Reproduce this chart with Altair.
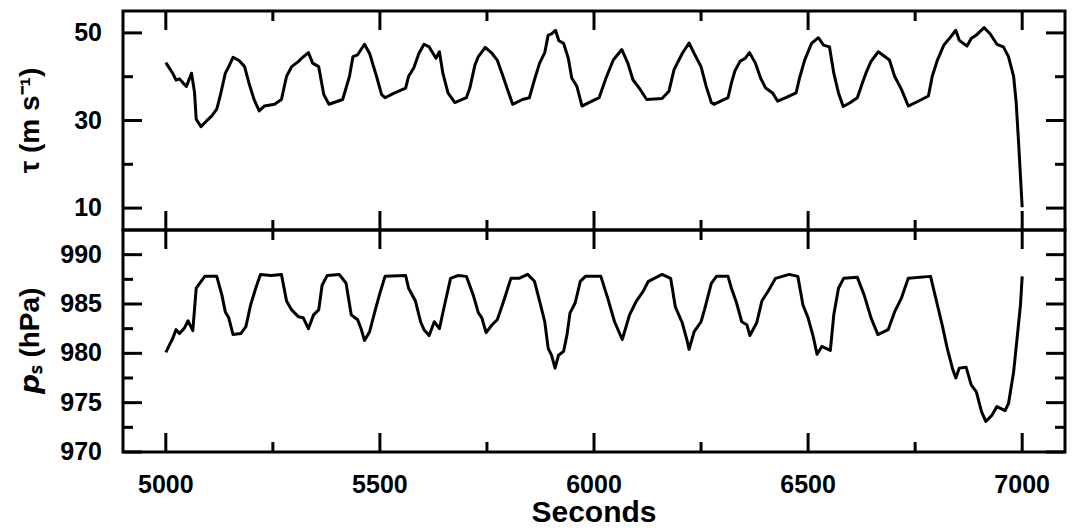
import altair as alt
import pandas as pd

# ---------------- data ----------------
tau_sec = [5000, 5008, 5016, 5024, 5032, 5040, 5048, 5060, 5067, 5071, 5082, 5095, 5107, 5119, 5127,
           5139, 5147, 5157, 5171, 5184, 5194, 5206, 5218, 5230, 5254, 5270, 5282, 5294, 5310, 5317,
           5333, 5343, 5357, 5369, 5381, 5393, 5413, 5429, 5437, 5448, 5464, 5476, 5492, 5504, 5512,
           5532, 5560, 5567, 5579, 5591, 5603, 5615, 5631, 5639, 5647, 5659, 5675, 5702, 5710, 5722,
           5730, 5746, 5762, 5774, 5786, 5798, 5810, 5833, 5849, 5861, 5873, 5885, 5893, 5901, 5910,
           5918, 5929, 5940, 5948, 5960, 5972, 5988, 6012, 6028, 6045, 6065, 6079, 6091, 6107, 6123,
           6159, 6175, 6187, 6206, 6222, 6234, 6250, 6262, 6274, 6280, 6313, 6321, 6329, 6341, 6353,
           6363, 6377, 6389, 6401, 6417, 6429, 6448, 6472, 6480, 6492, 6508, 6524, 6536, 6550, 6560,
           6571, 6582, 6599, 6615, 6627, 6635, 6647, 6664, 6679, 6690, 6702, 6718, 6734, 6757, 6781,
           6790, 6802, 6817, 6833, 6845, 6853, 6871, 6881, 6893, 6911, 6925, 6941, 6956, 6968, 6980,
           6986, 6992, 7000]
tau_val = [43.2, 42.0, 40.8, 39.2, 39.5, 38.6, 37.8, 40.8, 36.5, 30.3, 28.6, 29.9, 31.0, 32.6, 35.6,
           40.8, 42.3, 44.4, 43.7, 42.3, 38.6, 34.8, 32.2, 33.3, 33.7, 34.8, 40.1, 42.3, 43.5, 44.2,
           45.5, 43.1, 42.3, 35.9, 33.7, 34.1, 34.8, 40.1, 44.6, 45.0, 47.4, 45.3, 40.1, 35.9, 35.2,
           36.2, 37.4, 40.1, 42.0, 45.3, 47.4, 46.8, 44.2, 45.7, 40.8, 36.3, 34.1, 35.2, 37.4, 42.7,
           44.6, 46.7, 45.3, 43.8, 40.5, 37.1, 33.7, 34.8, 35.2, 39.3, 43.1, 45.5, 49.5, 49.8, 50.6,
           48.2, 47.6, 44.2, 39.7, 37.8, 33.3, 34.1, 35.2, 39.7, 43.8, 46.2, 43.1, 39.3, 37.2, 34.8,
           35.0, 36.7, 41.6, 45.3, 47.7, 45.3, 42.3, 37.8, 34.1, 33.7, 35.2, 38.6, 41.3, 43.5, 44.2,
           45.5, 43.1, 39.7, 37.4, 36.3, 34.4, 35.2, 36.3, 39.7, 43.8, 47.6, 48.9, 47.2, 46.8, 40.8,
           36.3, 33.2, 34.1, 35.2, 38.6, 40.8, 43.5, 45.7, 44.6, 43.8, 40.1, 37.1, 33.3, 34.4, 35.6,
           40.1, 43.8, 47.2, 49.1, 50.6, 48.3, 47.0, 48.7, 49.5, 51.2, 49.8, 47.4, 46.8, 44.6, 40.1,
           34.1, 24.3, 10.2]

ps_sec = [5000, 5008, 5016, 5024, 5032, 5044, 5052, 5063, 5071, 5079, 5091, 5119, 5131, 5139, 5147,
          5157, 5175, 5187, 5198, 5210, 5221, 5246, 5270, 5282, 5294, 5310, 5321, 5333, 5345, 5357,
          5365, 5377, 5405, 5421, 5433, 5448, 5456, 5464, 5476, 5488, 5500, 5512, 5560, 5567, 5583,
          5595, 5603, 5615, 5627, 5639, 5651, 5665, 5683, 5702, 5718, 5730, 5738, 5748, 5762, 5774,
          5786, 5806, 5825, 5845, 5861, 5873, 5885, 5893, 5901, 5909, 5917, 5929, 5937, 5944, 5956,
          5968, 5980, 6016, 6032, 6048, 6066, 6083, 6099, 6115, 6127, 6159, 6179, 6190, 6206, 6218,
          6222, 6234, 6250, 6258, 6274, 6286, 6313, 6321, 6333, 6345, 6357, 6364, 6380, 6392, 6408,
          6424, 6456, 6476, 6488, 6500, 6512, 6521, 6532, 6552, 6560, 6571, 6583, 6615, 6631, 6647,
          6663, 6687, 6702, 6718, 6734, 6786, 6802, 6813, 6825, 6837, 6845, 6853, 6869, 6881, 6893,
          6905, 6915, 6929, 6941, 6960, 6968, 6980, 6988, 6996, 7000]
ps_val = [980.1, 980.8, 981.5, 982.4, 982.0, 982.6, 983.3, 982.3, 986.6, 987.1, 987.8, 987.8, 985.9, 984.2, 983.6,
          981.9, 982.0, 982.7, 984.9, 986.6, 988.0, 987.9, 988.0, 985.3, 984.4, 983.7, 983.6, 982.5, 983.9, 984.4,
          986.9, 987.9, 988.0, 987.1, 983.9, 983.4, 982.5, 981.3, 982.2, 984.2, 986.1, 987.8, 987.9, 986.6, 985.3,
          983.2, 982.4, 981.8, 983.2, 982.5, 984.9, 987.6, 987.9, 987.8, 985.9, 984.1, 983.6, 982.1, 982.9, 983.4,
          984.9, 987.6, 987.6, 988.0, 987.3, 985.3, 983.2, 980.5, 979.8, 978.5, 979.8, 980.2, 981.9, 984.1, 985.1,
          987.3, 987.8, 987.8, 985.6, 983.2, 981.4, 983.9, 985.3, 986.3, 987.3, 988.0, 987.6, 984.7, 983.1, 981.2,
          980.4, 982.2, 983.2, 984.4, 987.1, 987.8, 987.8, 986.6, 985.1, 983.2, 982.9, 981.8, 983.1, 985.3, 986.4,
          987.6, 988.0, 987.8, 984.9, 983.6, 981.7, 979.9, 980.7, 980.3, 983.9, 986.6, 987.6, 987.7, 985.9, 983.6,
          981.9, 982.4, 984.2, 985.6, 987.6, 987.8, 984.9, 982.9, 980.5, 978.5, 977.5, 978.5, 978.6, 976.8, 976.1,
          974.1, 973.1, 973.7, 974.6, 974.2, 974.9, 978.1, 981.5, 984.9, 987.8]

x_major = [5000, 5500, 6000, 6500, 7000]
x_minor = [5250, 5750, 6250, 6750]
tau_major = [10, 30, 50]
tau_minor = [20, 40]
ps_major = [970, 975, 980, 985, 990]
ps_minor = [972.5, 977.5, 982.5, 987.5]

tau_title = ["τ (m s⁻¹)"]
ps_title = ["𝙥ₛ (hPa)"]
x_title = ["Seconds"]

X_DOMAIN = [4900, 7100]
TAU_DOMAIN = [5, 55]
PS_DOMAIN = [970, 992.5]

# ---------------- layout / style ----------------
# total drawing kept narrower than the page body so the browser does not shrink it
W = 942
H_TOP = 219
H_BOT = 222
MAJ = 19
MINL = 10
FONT = "Liberation Sans"
TXT = dict(font=FONT, fontWeight="bold", color="black")


def ticks_layers(xs, ys, ymajor, yminor, height):
    layers = []
    for vals, ln in ((ymajor, MAJ), (yminor, MINL)):
        d = pd.DataFrame({"v": vals})
        for x0, x1 in ((0, ln), (W - ln, W)):
            layers.append(alt.Chart(d).mark_rule(color="black", strokeWidth=3).encode(
                y=alt.Y("v:Q", scale=ys, axis=None),
                x=alt.value(x0), x2=alt.value(x1)))
    for vals, ln in ((x_major, MAJ), (x_minor, MINL)):
        d = pd.DataFrame({"v": vals})
        for y0, y1 in ((0, ln), (height - ln, height)):
            layers.append(alt.Chart(d).mark_rule(color="black", strokeWidth=3).encode(
                x=alt.X("v:Q", scale=xs, axis=None),
                y=alt.value(y0), y2=alt.value(y1)))
    return layers


def panel(df, yfield, ydomain, ymajor, yminor, ytitle, height, show_x_labels):
    xs = alt.Scale(domain=X_DOMAIN, nice=False, zero=False)
    ys = alt.Scale(domain=ydomain, nice=False, zero=False)

    line = alt.Chart(df).mark_line(color="black", strokeWidth=3, strokeJoin="round").encode(
        x=alt.X("sec:Q", scale=xs, axis=None),
        y=alt.Y(f"{yfield}:Q", scale=ys, axis=None),
    )
    layers = [line] + ticks_layers(xs, ys, ymajor, yminor, height)

    # y tick labels
    ylab = pd.DataFrame({"v": ymajor, "lab": [str(v) for v in ymajor]})
    layers.append(alt.Chart(ylab).mark_text(align="right", baseline="middle", fontSize=25, **TXT).encode(
        y=alt.Y("v:Q", scale=ys, axis=None), x=alt.value(-21), text="lab:N"))
    # y title
    layers.append(alt.Chart(pd.DataFrame({"t": ytitle})).mark_text(
        align="center", baseline="bottom", angle=270, fontSize=28, **TXT).encode(
        x=alt.value(-78), y=alt.value(height / 2), text="t:N"))

    if show_x_labels:
        xlab = pd.DataFrame({"v": x_major, "lab": [str(v) for v in x_major]})
        layers.append(alt.Chart(xlab).mark_text(align="center", baseline="top", fontSize=25, **TXT).encode(
            x=alt.X("v:Q", scale=xs, axis=None), y=alt.value(height + 21), text="lab:N"))
        layers.append(alt.Chart(pd.DataFrame({"t": x_title})).mark_text(
            align="center", baseline="top", fontSize=30, **TXT).encode(
            x=alt.value(W / 2), y=alt.value(height + 46), text="t:N"))

    return alt.layer(*layers).properties(width=W, height=height)


tau_df = pd.DataFrame({"sec": tau_sec, "tau": tau_val})
ps_df = pd.DataFrame({"sec": ps_sec, "ps": ps_val})

top = panel(tau_df, "tau", TAU_DOMAIN, tau_major, tau_minor, tau_title, H_TOP, False)
bottom = panel(ps_df, "ps", PS_DOMAIN, ps_major, ps_minor, ps_title, H_BOT, True)

chart = alt.vconcat(top, bottom, spacing=0, bounds="flush").properties(
    padding={"left": 7, "top": 0, "right": 0, "bottom": -5}
).configure_view(
    stroke="black", strokeWidth=3
)

chart.save("out.html", embed_options={"renderer": "svg", "actions": False})
